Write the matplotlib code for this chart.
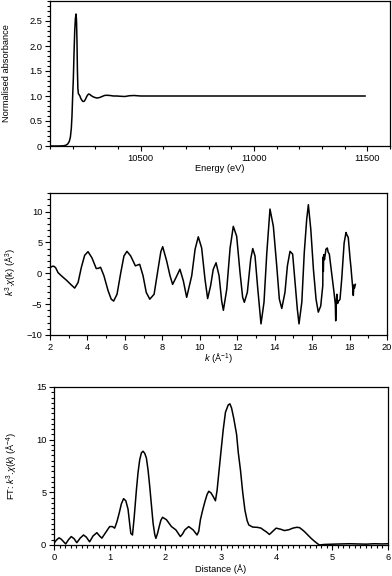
import matplotlib
matplotlib.use('Agg')
import matplotlib.pyplot as plt
from matplotlib.ticker import MultipleLocator, FuncFormatter

# XANES: energy (eV) vs normalised absorbance
xanes_e = [10100, 10140, 10160, 10170, 10178, 10185, 10190, 10194, 10197, 10200,
           10203, 10206, 10209, 10212, 10215, 10217, 10219, 10221, 10223, 10225,
           10228, 10232, 10236, 10240, 10244, 10248, 10252, 10257, 10262, 10267,
           10271, 10276, 10281, 10288, 10295, 10306, 10315, 10322, 10330, 10340,
           10350, 10365, 10380, 10394, 10410, 10430, 10450, 10470, 10500, 10550,
           10600, 10700, 10800, 10900, 11000, 11100, 11200, 11300, 11400, 11490]
xanes_mu = [0.0, 0.0, 0.005, 0.015, 0.04, 0.09, 0.18, 0.35, 0.6, 1.0,
            1.35, 1.85, 2.3, 2.55, 2.64, 2.5, 2.1, 1.5, 1.15, 1.05,
            1.03, 1.0, 0.95, 0.92, 0.895, 0.89, 0.9, 0.94, 0.99, 1.025,
            1.04, 1.03, 1.01, 0.99, 0.975, 0.96, 0.965, 0.975, 0.99, 1.01,
            1.015, 1.01, 1.0, 1.0, 0.995, 0.99, 1.005, 1.01, 1.0, 1.0,
            1.0, 1.0, 1.0, 1.0, 1.0, 1.0, 1.0, 1.0, 1.0, 1.0]

# EXAFS: k (1/A) vs k^3 chi(k)
exafs_k = [2.0, 2.1, 2.2, 2.3, 2.43, 2.64, 2.87, 3.14, 3.32, 3.5,
           3.67, 3.85, 4.03, 4.24, 4.47, 4.58, 4.7, 4.88, 5.1, 5.27,
           5.4, 5.58, 5.78, 5.95, 6.11, 6.31, 6.56, 6.79, 6.97, 7.14,
           7.33, 7.56, 7.77, 7.92, 8.02, 8.23, 8.41, 8.55, 8.73, 8.94,
           9.12, 9.3, 9.57, 9.75, 9.92, 10.1, 10.28, 10.42, 10.58, 10.72,
           10.87, 11.03, 11.17, 11.26, 11.44, 11.62, 11.79, 11.97, 12.15, 12.29,
           12.38, 12.54, 12.72, 12.83, 12.95, 13.1, 13.27, 13.43, 13.58, 13.75,
           13.93, 14.11, 14.25, 14.38, 14.55, 14.68, 14.82, 14.96, 15.09, 15.21,
           15.3, 15.45, 15.58, 15.71, 15.8, 15.93, 16.07, 16.21, 16.33, 16.46,
           16.57, 16.58, 16.6, 16.62, 16.66, 16.74, 16.81, 16.86, 16.92, 17.04,
           17.17, 17.24, 17.26, 17.29, 17.32, 17.36, 17.4, 17.45, 17.49, 17.58,
           17.71, 17.81, 17.86, 17.93, 18.03, 18.08, 18.12, 18.16, 18.2, 18.23,
           18.26, 18.31]
exafs_chi = [0.9, 1.1, 1.15, 0.9, 0.1, -0.5, -1.1, -1.9, -2.4, -1.5,
             0.9, 2.9, 3.5, 2.5, 0.76, 0.8, 0.97, -0.4, -2.8, -4.2,
             -4.5, -3.4, 0.1, 2.8, 3.55, 2.8, 1.2, 1.45, -0.4, -3.1,
             -4.2, -3.4, 0.65, 3.5, 4.3, 2.0, -0.4, -1.8, -0.7, 0.65,
             -1.2, -3.9, -0.4, 3.9, 5.9, 4.1, -1.0, -4.1, -2.0, 0.65,
             1.7, -0.4, -4.5, -6.0, -2.6, 4.1, 7.6, 6.0, 0.1, -3.9,
             -4.7, -3.1, 2.3, 4.0, 2.8, -2.6, -8.2, -4.7, 3.3, 10.4,
             7.6, 1.2, -4.2, -5.7, -3.1, 1.2, 3.55, 3.1, -1.5, -5.8,
             -8.2, -4.7, 3.3, 8.7, 11.1, 7.1, 0.65, -4.2, -6.3, -5.3,
             -2.0, 2.6, 0.3, 3.0, 2.2, 3.9, 4.1, 3.4, 3.1, 0.1,
             -3.1, -5.0, -7.7, -4.8, -3.4, -4.9, -4.5, -4.4, -4.2, -1.0,
             4.9, 6.6, 6.2, 5.8, 2.3, 0.8, -0.7, -2.0, -3.6, -1.9,
             -2.4, -1.8]

# Fourier transform: distance (A) vs |FT|
ft_r = [0.0, 0.04, 0.09, 0.13, 0.16, 0.21, 0.26, 0.31, 0.36, 0.41,
        0.47, 0.53, 0.58, 0.64, 0.7, 0.77, 0.82, 0.86, 0.93, 1.0,
        1.05, 1.09, 1.13, 1.17, 1.21, 1.25, 1.29, 1.33, 1.36, 1.38,
        1.41, 1.44, 1.48, 1.51, 1.54, 1.57, 1.6, 1.63, 1.66, 1.69,
        1.72, 1.75, 1.78, 1.81, 1.83, 1.86, 1.89, 1.92, 1.95, 2.02,
        2.11, 2.19, 2.27, 2.31, 2.35, 2.42, 2.5, 2.57, 2.6, 2.63,
        2.67, 2.71, 2.75, 2.78, 2.82, 2.86, 2.9, 2.93, 2.96, 3.0,
        3.04, 3.08, 3.13, 3.16, 3.19, 3.23, 3.28, 3.31, 3.35, 3.39,
        3.43, 3.47, 3.5, 3.57, 3.65, 3.72, 3.77, 3.81, 3.87, 3.93,
        3.99, 4.07, 4.14, 4.22, 4.29, 4.36, 4.41, 4.46, 4.5, 4.56,
        4.62, 4.68, 4.74, 4.77, 4.85, 5.01, 5.15, 5.31, 5.45, 5.61,
        5.75, 5.9, 6.0]
ft_mag = [0.16, 0.45, 0.68, 0.55, 0.38, 0.1, 0.5, 0.8, 0.6, 0.22,
          0.65, 0.95, 0.75, 0.3, 0.85, 1.17, 0.85, 0.65, 1.2, 1.75,
          1.75, 1.6, 2.2, 3.0, 3.9, 4.4, 4.2, 3.4, 2.0, 1.1,
          0.95, 2.6, 5.2, 6.9, 8.1, 8.75, 8.9, 8.7, 8.25, 7.1,
          5.55, 3.8, 2.06, 1.0, 0.63, 1.1, 1.75, 2.35, 2.63, 2.4,
          1.75, 1.43, 0.8, 1.05, 1.43, 1.75, 1.43, 0.95, 1.3, 2.4,
          3.3, 4.1, 4.8, 5.1, 4.95, 4.6, 4.2, 5.2, 6.8, 8.9,
          10.95, 12.6, 13.3, 13.4, 13.0, 12.0, 10.5, 8.8, 7.1, 5.0,
          3.3, 2.3, 1.9, 1.7, 1.68, 1.6, 1.4, 1.27, 1.0, 1.3,
          1.6, 1.5, 1.37, 1.45, 1.6, 1.68, 1.65, 1.45, 1.27, 0.95,
          0.63, 0.35, 0.1, 0.0, 0.05, 0.08, 0.1, 0.12, 0.1, 0.08,
          0.12, 0.1, 0.12]

plt.rcParams['font.family'] = ['Liberation Sans', 'DejaVu Sans']
plt.rcParams['mathtext.fontset'] = 'custom'
plt.rcParams['mathtext.rm'] = 'Liberation Sans'
plt.rcParams['mathtext.it'] = 'Liberation Sans:italic'
plt.rcParams['font.size'] = 6.7
plt.rcParams['axes.linewidth'] = 0.9


def style_axis(ax):
    ax.tick_params(which='both', direction='out', width=0.8, labelsize=6.7,
                   top=False, right=False, pad=2)
    ax.tick_params(which='major', length=3.5)
    ax.tick_params(which='minor', length=2)


fig = plt.figure(figsize=(3.92, 5.76), dpi=100)

ax1 = fig.add_axes([50 / 392, 1 - 146 / 576, 340 / 392, 145 / 576])
ax1.plot(xanes_e, xanes_mu, c='black', lw=1.1)
ax1.set_xlim(10100, 11600)
ax1.set_ylim(0, 2.9)
ax1.xaxis.set_major_locator(MultipleLocator(500))
ax1.xaxis.set_minor_locator(MultipleLocator(100))
ax1.yaxis.set_major_locator(MultipleLocator(0.5))
ax1.yaxis.set_minor_locator(MultipleLocator(0.1))
ax1.xaxis.set_major_formatter(FuncFormatter(lambda v, p: '' if v < 10500 else '%d' % v))
ax1.yaxis.set_major_formatter(FuncFormatter(lambda v, p: '0' if abs(v) < 1e-9 else '%.1f' % v))
ax1.set_xlabel('Energy (eV)')
ax1.set_ylabel('Normalised absorbance')
ax1.xaxis.set_label_coords(0.5, -0.125)
ax1.yaxis.set_label_coords(-0.115, 0.5)
style_axis(ax1)

ax2 = fig.add_axes([50 / 392, 1 - 335 / 576, 337 / 392, 142 / 576])
ax2.plot(exafs_k, exafs_chi, c='black', lw=1.1)
ax2.set_xlim(2, 20)
ax2.set_ylim(-10, 13)
ax2.xaxis.set_major_locator(MultipleLocator(2))
ax2.xaxis.set_minor_locator(MultipleLocator(1))
ax2.yaxis.set_major_locator(MultipleLocator(5))
ax2.yaxis.set_minor_locator(MultipleLocator(1))
ax2.set_xlabel(r'$k$ (Å$^{-1}$)')
ax2.set_ylabel(r'$k^3$.$\chi$(k) (Å$^3$)')
ax2.xaxis.set_label_coords(0.5, -0.115)
ax2.yaxis.set_label_coords(-0.095, 0.44)
style_axis(ax2)

ax3 = fig.add_axes([54 / 392, 1 - 545 / 576, 334 / 392, 158 / 576])
ax3.plot(ft_r, ft_mag, c='black', lw=1.1)
ax3.set_xlim(0, 6)
ax3.set_ylim(0, 15)
ax3.xaxis.set_major_locator(MultipleLocator(1))
ax3.xaxis.set_minor_locator(MultipleLocator(0.1))
ax3.yaxis.set_major_locator(MultipleLocator(5))
ax3.yaxis.set_minor_locator(MultipleLocator(0.5))
ax3.set_xlabel('Distance (Å)')
ax3.set_ylabel(r'FT: $k^3$.$\chi$($k$) (Å$^{-4}$)')
ax3.xaxis.set_label_coords(0.5, -0.12)
ax3.yaxis.set_label_coords(-0.105, 0.5)
style_axis(ax3)

fig.savefig('out.png', dpi=100)
